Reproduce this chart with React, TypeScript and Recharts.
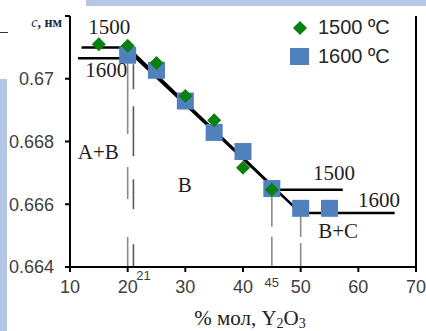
import React from "react";
import {
  ComposedChart,
  Scatter,
  Line,
  XAxis,
  YAxis,
  ReferenceLine,
  ReferenceDot,
  Legend,
} from "recharts";

// measured lattice parameter c (nm) vs mol % Y2O3
const mol1500 = [15, 20, 25, 30, 35, 40, 45];
const c1500 = [0.6711, 0.67105, 0.6705, 0.66945, 0.66868, 0.66716, 0.66646];
const mol1600 = [20, 25, 30, 35, 40, 45, 50, 55];
const c1600 = [0.67075, 0.67027, 0.66929, 0.66829, 0.66768, 0.6665, 0.66587, 0.66587];

// fitted lines
const fit1500Mol = [12, 20, 45.8, 57.3];
const fit1500C = [0.671, 0.671, 0.66646, 0.66646];
const fit1600Mol = [11.4, 21.5, 50, 66.3];
const fit1600C = [0.67065, 0.67065, 0.66572, 0.66572];

// phase boundaries (dashed)
const boundMol = [20, 21, 45, 50];
const boundTop = [0.67085, 0.67046, 0.66646, 0.66572];
const boundDash = ["82 33 32 38 40", "25 17 50 23 30 35 40", "37 10", "24 6"];
const boundColor = ["#8a8a8a", "#5a5a5a", "#8a8a8a", "#8a8a8a"];

// annotations
const noteText = ["1500", "1600", "A+B", "B", "1500", "1600", "B+C"];
const noteMol = [16.8, 16.3, 14.9, 29.9, 55.8, 63.6, 56.5];
const noteC = [0.67165, 0.67027, 0.66768, 0.66662, 0.66699, 0.66613, 0.66514];

const xTicks = [10, 20, 30, 40, 50, 60, 70];
const yTicks = [0.664, 0.666, 0.668, 0.67, 0.672];
const extraTicks = [21, 45];
const seriesNames = ["1500 ºC", "1600 ºC"];

const GREEN = "#0a7f12";
const BLUE = "#4f81bd";
const SERIF = "'Liberation Serif', 'Times New Roman', serif";
const SANS = "'Liberation Sans', Arial, sans-serif";

const pts1500 = mol1500.map((x, i) => ({ x, c: c1500[i] }));
const pts1600 = mol1600.map((x, i) => ({ x, c: c1600[i] }));
const line1500 = fit1500Mol.map((x, i) => ({ x, c: fit1500C[i] }));
const line1600 = fit1600Mol.map((x, i) => ({ x, c: fit1600C[i] }));

const Diamond = (props: any) => {
  const { cx, cy } = props;
  const r = 7;
  return (
    <path
      d={`M${cx},${cy - r}L${cx + r},${cy}L${cx},${cy + r}L${cx - r},${cy}Z`}
      fill={GREEN}
    />
  );
};

const Square = (props: any) => {
  const { cx, cy } = props;
  const s = 17;
  return <rect x={cx - s / 2} y={cy - s / 2} width={s} height={s} fill={BLUE} />;
};

const noteLabel = (text: string, size: number, color: string, font: string, dx = 0, dy = 0) =>
  (p: any) => (
    <text
      x={p.viewBox.x + dx}
      y={p.viewBox.y + dy}
      textAnchor="middle"
      dominantBaseline="central"
      fontSize={size}
      fontFamily={font}
      fill={color}
    >
      {text}
    </text>
  );

const LegendBox = () => (
  <div style={{ fontFamily: SANS, fontSize: 20, color: "#262626", lineHeight: "29px" }}>
    {seriesNames.map((name, i) => (
      <div key={name} style={{ display: "flex", alignItems: "center", height: 29 }}>
        <svg width={24} height={20} style={{ marginRight: 6 }}>
          {i === 0 ? (
            <path d="M12,3L19,10L12,17L5,10Z" fill={GREEN} />
          ) : (
            <rect x={2} y={1} width={19} height={17} fill={BLUE} />
          )}
        </svg>
        <span>{name}</span>
      </div>
    ))}
  </div>
);

export default function App() {
  return (
    <div style={{ position: "absolute", left: 0, top: 0, width: 426, height: 331, background: "#fff" }}>
      <div style={{ position: "absolute", left: 0, top: 79, width: 7, height: 252, background: "#b4c7e7" }} />
      <div style={{ position: "absolute", left: 86, top: 0, width: 340, height: 6, background: "#b4c7e7" }} />
      <div style={{ position: "absolute", left: 0, top: 32, width: 8, height: 1, background: "#333" }} />
      <ComposedChart
        width={426}
        height={331}
        margin={{ top: 16, right: 0, bottom: 0, left: 0 }}
        style={{ position: "absolute", left: 0, top: 0 }}
      >
        <XAxis
          type="number"
          dataKey="x"
          domain={[10, 70]}
          ticks={xTicks}
          height={64}
          axisLine={{ stroke: "#000", strokeWidth: 2 }}
          tickLine={{ stroke: "#000", strokeWidth: 2 }}
          tickSize={5}
          tickMargin={8}
          tick={{ fill: "#404040", fontSize: 18, fontFamily: SANS }}
          label={{
            content: (p: any) => (
              <text
                x={p.viewBox.x + p.viewBox.width / 2 + 7}
                y={325}
                textAnchor="middle"
                fontSize={21}
                fontFamily={SERIF}
                fill="#222"
              >
                % мол, Y<tspan dy={3} fontSize={14}>2</tspan>
                <tspan dy={-3}>O</tspan>
                <tspan dy={3} fontSize={14}>3</tspan>
              </text>
            ),
          }}
        />
        <YAxis
          type="number"
          dataKey="c"
          domain={[0.664, 0.672]}
          ticks={yTicks}
          width={70}
          axisLine={{ stroke: "#000", strokeWidth: 2 }}
          tickLine={{ stroke: "#000", strokeWidth: 2 }}
          tickSize={5}
          tickMargin={11}
          tick={{ fill: "#404040", fontSize: 18, fontFamily: SANS }}
          tickFormatter={(v: number) => (v === 0.672 ? "" : String(parseFloat(v.toFixed(3))))}
          label={{
            content: () => (
              <text
                x={62}
                y={27}
                textAnchor="end"
                fontSize={14}
                fontFamily={SERIF}
                fontWeight="bold"
                fill="#1f2a44"
              >
                <tspan fontStyle="italic" fontWeight="normal">c</tspan>, нм
              </text>
            ),
          }}
        />
        <YAxis
          yAxisId="r"
          orientation="right"
          type="number"
          domain={[0.664, 0.672]}
          ticks={yTicks}
          width={10}
          axisLine={{ stroke: "#000", strokeWidth: 2 }}
          tickLine={{ stroke: "#000", strokeWidth: 2 }}
          tickSize={5}
          tickFormatter={() => ""}
        />
        <Legend
          layout="vertical"
          align="center"
          verticalAlign="middle"
          wrapperStyle={{ left: 288, top: 13, width: 130 }}
          content={() => <LegendBox />}
        />
        <Scatter
          name={seriesNames[1]}
          data={pts1600}
          shape={<Square />}
          isAnimationActive={false}
        />
        <Scatter
          name={seriesNames[0]}
          data={pts1500}
          shape={<Diamond />}
          isAnimationActive={false}
        />
        <Line
          data={line1500}
          dataKey="c"
          stroke="#000"
          strokeWidth={2.5}
          dot={false}
          activeDot={false}
          type="linear"
          legendType="none"
          isAnimationActive={false}
        />
        <Line
          data={line1600}
          dataKey="c"
          stroke="#000"
          strokeWidth={2.5}
          dot={false}
          activeDot={false}
          type="linear"
          legendType="none"
          isAnimationActive={false}
        />
        {boundMol.map((m, i) => (
          <ReferenceLine
            key={"b" + i}
            segment={[
              { x: m, y: boundTop[i] },
              { x: m, y: 0.664 },
            ]}
            stroke={boundColor[i]}
            strokeWidth={1.6}
            strokeDasharray={boundDash[i]}
            ifOverflow="visible"
          />
        ))}
        {noteText.map((t, i) => (
          <ReferenceDot
            key={"n" + i}
            x={noteMol[i]}
            y={noteC[i]}
            r={0}
            stroke="none"
            fill="none"
            ifOverflow="visible"
            label={{ content: noteLabel(t, 21, "#1e1e1e", SERIF) }}
          />
        ))}
        {extraTicks.map((m, i) => (
          <ReferenceDot
            key={"t" + i}
            x={m}
            y={0.664}
            r={0}
            stroke="none"
            fill="none"
            ifOverflow="visible"
            label={{ content: noteLabel(String(m), 13, "#404040", SANS, i === 0 ? 10 : 0, i === 0 ? 8 : 15) }}
          />
        ))}
      </ComposedChart>
    </div>
  );
}
